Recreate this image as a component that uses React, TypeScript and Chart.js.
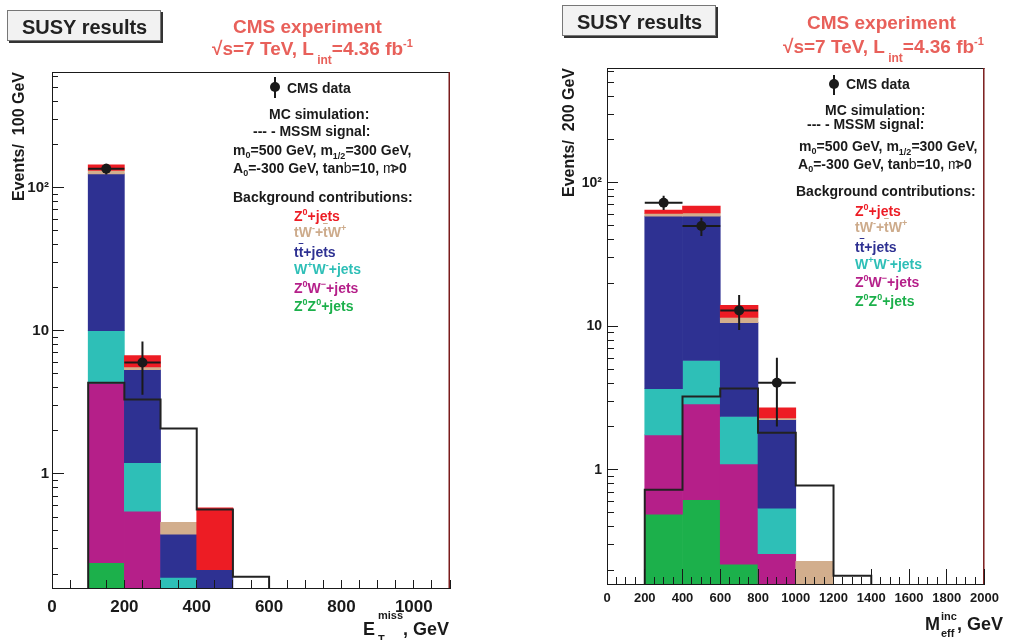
import React, { useEffect, useRef } from 'react';
import { Chart, registerables } from 'chart.js';

Chart.register(...registerables);

const FONT = "'Liberation Sans', Arial, Helvetica, sans-serif";
const INK = '#1a1a1a';
const TITLE_RED = '#e8605a';
const FRAME_RED = '#7a1c1c';

// process colours (stack order bottom -> top: ZZ, ZW, WW, tt, tW, Z)
const C_ZZ = '#1cb04b';
const C_ZW = '#b51f89';
const C_WW = '#2ebfb7';
const C_TT = '#2e3192';
const C_TW = '#d2ae8d';
const C_ZJ = '#ed1c24';
const PROCESS_LABELS = ['Z0Z0+jets', 'Z0W-+jets', 'W+W-+jets', 'tt+jets', 'tW-+tW+', 'Z0+jets'];

// log axis
const Y_MIN = 0.16;
const BAR_FLOOR = 0.001; // log axis cannot hold 0: stacks start below the visible range
const MET_Y_MAX = 640;
const MEFF_Y_MAX = 630;
const Y_TICK_VALUES = [1, 10, 100];
const Y_TICK_LABELS = ['1', '10', '10²'];

// ---------- Left panel: E_T^miss, 100 GeV bins ----------
const MET_CENTERS = [150, 250, 350, 450, 550];
const MET_ZZ = [0.24, 0, 0, 0, 0];
const MET_ZW = [4.06, 0.55, 0, 0, 0];
const MET_WW = [5.7, 0.65, 0.19, 0, 0];
const MET_TT = [114.6, 4.15, 0.19, 0.215, 0];
const MET_TW = [6.8, 0.25, 0.08, 0, 0];
const MET_ZJ = [12.6, 1.1, 0, 0.365, 0];
const MET_SIGNAL_EDGES = [100, 200, 300, 400, 500, 600];
const MET_SIGNAL = [4.33, 3.31, 2.08, 0.565, 0.192];
const MET_DATA_X = [150, 250];
const MET_DATA = [135, 6.0];
const MET_DATA_LO = [123.4, 3.57];
const MET_DATA_HI = [146.6, 8.4];
const MET_HALF_BIN = 50;
const MET_X_MAX = 1100;

// ---------- Right panel: M_eff^inc, 200 GeV bins ----------
const MEFF_CENTERS = [300, 500, 700, 900, 1100];
const MEFF_ZZ = [0.49, 0.62, 0.22, 0, 0];
const MEFF_ZW = [1.26, 2.26, 0.88, 0.26, 0];
const MEFF_WW = [1.92, 2.89, 1.25, 0.28, 0];
const MEFF_TT = [54.9, 52.8, 8.25, 1.69, 0];
const MEFF_TW = [2.6, 3.0, 0.9, 0.07, 0.23];
const MEFF_ZJ = [3.4, 7.3, 2.5, 0.4, 0];
const MEFF_SIGNAL_EDGES = [200, 400, 600, 800, 1000, 1200, 1400];
const MEFF_SIGNAL = [0.726, 3.24, 3.68, 1.81, 0.777, 0.183];
const MEFF_DATA_X = [300, 500, 700, 900];
const MEFF_DATA = [72.6, 49.9, 12.9, 4.04];
const MEFF_DATA_LO = [64.6, 42.5, 9.4, 2.0];
const MEFF_DATA_HI = [81, 57.1, 16.5, 6.03];
const MEFF_HALF_BIN = 100;
const MEFF_X_MAX = 2000;

function logTicks(min: number, max: number) {
  const out: any[] = [];
  for (let e = Math.floor(Math.log10(min)); e <= Math.ceil(Math.log10(max)); e++) {
    for (let m = 1; m <= 9; m++) {
      const v = parseFloat((m * Math.pow(10, e)).toPrecision(4));
      if (v >= min && v <= max) out.push({ value: v, major: m === 1 });
    }
  }
  return out;
}

function buildConfig(p: any) {
  const series = [p.zz, p.zw, p.ww, p.tt, p.tw, p.zj];
  const colors = [C_ZZ, C_ZW, C_WW, C_TT, C_TW, C_ZJ];
  const running = p.centers.map(() => 0);
  const barSets = series.map((vals: number[], k: number) => {
    const data: any[] = [];
    p.centers.forEach((c: number, i: number) => {
      const lo = running[i];
      const hi = lo + vals[i];
      running[i] = hi;
      if (vals[i] > 0) data.push({ x: c, y: [lo > 0 ? lo : BAR_FLOOR, hi] });
    });
    return {
      type: 'bar',
      label: PROCESS_LABELS[k],
      data,
      backgroundColor: colors[k],
      borderWidth: 0,
      barPercentage: 1,
      categoryPercentage: 1,
      stack: 'bg',
      order: 10 - k,
      xAxisID: 'x',
      yAxisID: 'y',
    };
  });

  const last = p.sigEdges.length - 1;
  const sigPts = [
    { x: p.sigEdges[0], y: Y_MIN },
    ...p.signal.map((v: number, i: number) => ({ x: p.sigEdges[i], y: v })),
    { x: p.sigEdges[last], y: Y_MIN },
  ];

  const dataPts = p.dataX.map((x: number, i: number) => ({ x, y: p.data[i] }));

  const errorBars = {
    id: 'errorBars',
    afterDatasetsDraw(chart: any) {
      const { ctx } = chart;
      const x = chart.scales.x;
      const y = chart.scales.y;
      ctx.save();
      ctx.strokeStyle = INK;
      ctx.lineWidth = 2;
      ctx.beginPath();
      p.dataX.forEach((xv: number, i: number) => {
        const px = x.getPixelForValue(xv);
        const py = y.getPixelForValue(p.data[i]);
        ctx.moveTo(x.getPixelForValue(xv - p.halfBin), py);
        ctx.lineTo(x.getPixelForValue(xv + p.halfBin), py);
        ctx.moveTo(px, y.getPixelForValue(p.dataHi[i]));
        ctx.lineTo(px, y.getPixelForValue(p.dataLo[i]));
      });
      ctx.stroke();
      ctx.restore();
    },
  };

  const frame = {
    id: 'frame',
    afterDatasetsDraw(chart: any) {
      const { ctx, chartArea: a } = chart;
      ctx.save();
      ctx.lineWidth = 1;
      ctx.strokeStyle = INK;
      ctx.beginPath();
      ctx.moveTo(a.left, a.top + 0.5);
      ctx.lineTo(a.right, a.top + 0.5);
      ctx.stroke();
      ctx.lineWidth = 1.5;
      ctx.strokeStyle = FRAME_RED;
      ctx.beginPath();
      ctx.moveTo(a.right - 0.75, a.top);
      ctx.lineTo(a.right - 0.75, a.bottom);
      ctx.stroke();
      ctx.restore();
    },
  };

  const transparent = 'rgba(0,0,0,0)';

  return {
    type: 'bar',
    data: {
      datasets: [
        {
          type: 'line',
          label: 'CMS data',
          data: dataPts,
          showLine: false,
          pointRadius: 5,
          pointHoverRadius: 5,
          pointBackgroundColor: INK,
          pointBorderColor: INK,
          pointBorderWidth: 0,
          order: 0,
          xAxisID: 'x',
          yAxisID: 'y',
        },
        {
          type: 'line',
          label: 'MSSM signal',
          data: sigPts,
          stepped: 'before',
          borderColor: '#222',
          borderWidth: 2,
          pointRadius: 0,
          fill: false,
          order: 1,
          xAxisID: 'x',
          yAxisID: 'y',
        },
        ...barSets,
      ],
    },
    options: {
      responsive: false,
      animation: false,
      devicePixelRatio: 1,
      events: [],
      layout: { padding: { left: 0, right: p.padRight, top: p.padTop, bottom: 0 } },
      plugins: { legend: { display: false }, tooltip: { enabled: false } },
      scales: {
        x: {
          type: 'linear',
          position: 'bottom',
          min: 0,
          max: p.xMax,
          weight: 1,
          stacked: true,
          offset: false,
          afterFit: (s: any) => {
            s.height = p.xHeight;
          },
          ticks: {
            stepSize: p.xStep,
            autoSkip: false,
            maxRotation: 0,
            padding: p.xLabelPad,
            color: INK,
            font: { family: FONT, size: p.xLabelSize, weight: 'bold' },
            callback: (v: any) => (Number(v) % p.xLabelEvery === 0 ? String(v) : ''),
          },
          grid: { offset: false, drawOnChartArea: false, drawTicks: true, tickLength: -p.xMajorLen, tickColor: INK, tickWidth: 1, z: 1 },
          border: { display: true, color: INK, width: 1, z: 1 },
        },
        xMinor: {
          type: 'linear',
          position: 'bottom',
          min: 0,
          max: p.xMax,
          weight: 0,
          display: true,
          offset: false,
          afterFit: (s: any) => {
            s.height = 0;
          },
          ticks: { display: false, stepSize: 50 },
          grid: { offset: false, drawOnChartArea: false, drawTicks: true, tickLength: -p.xMinorLen, tickColor: INK, tickWidth: 1, z: 1 },
          border: { display: false },
        },
        y: {
          type: 'logarithmic',
          position: 'left',
          min: Y_MIN,
          max: p.yMax,
          weight: 1,
          stacked: false,
          display: true,
          afterBuildTicks: (s: any) => {
            s.ticks = logTicks(Y_MIN, p.yMax);
          },
          afterFit: (s: any) => {
            s.width = p.yWidth;
          },
          title: {
            display: true,
            text: p.yTitle,
            align: 'end',
            color: INK,
            font: { family: FONT, size: 16, weight: 'bold' },
            padding: { top: p.yTitlePad, bottom: 0 },
          },
          ticks: {
            autoSkip: false,
            padding: p.yLabelPad,
            color: INK,
            font: { family: FONT, size: p.yLabelSize, weight: 'bold' },
            callback: (v: any) => {
              const i = Y_TICK_VALUES.indexOf(Number(v));
              return i >= 0 ? Y_TICK_LABELS[i] : '';
            },
          },
          grid: {
            drawOnChartArea: false,
            drawTicks: true,
            tickLength: -p.yMajorLen,
            tickWidth: 1,
            tickColor: (c: any) => (c.tick && c.tick.major ? INK : transparent),
            z: 1,
          },
          border: { display: true, color: INK, width: 1, z: 1 },
        },
        yMinor: {
          type: 'logarithmic',
          position: 'left',
          min: Y_MIN,
          max: p.yMax,
          weight: 0,
          stacked: false,
          display: true,
          afterBuildTicks: (s: any) => {
            s.ticks = logTicks(Y_MIN, p.yMax);
          },
          afterFit: (s: any) => {
            s.width = 0;
          },
          ticks: { display: false },
          grid: {
            drawOnChartArea: false,
            drawTicks: true,
            tickLength: -p.yMinorLen,
            tickWidth: 1,
            tickColor: (c: any) => (c.tick && !c.tick.major ? INK : transparent),
            z: 1,
          },
          border: { display: false },
        },
      },
    },
    plugins: [errorBars, frame],
  };
}

const LEFT = {
  centers: MET_CENTERS, zz: MET_ZZ, zw: MET_ZW, ww: MET_WW, tt: MET_TT, tw: MET_TW, zj: MET_ZJ,
  sigEdges: MET_SIGNAL_EDGES, signal: MET_SIGNAL,
  dataX: MET_DATA_X, data: MET_DATA, dataLo: MET_DATA_LO, dataHi: MET_DATA_HI, halfBin: MET_HALF_BIN,
  xMax: MET_X_MAX, xStep: 100, xLabelEvery: 200, xLabelSize: 17, xLabelPad: 17, xMajorLen: 8, xMinorLen: 8, xHeight: 52,
  yMax: MET_Y_MAX, yWidth: 52, yTitle: 'Events/  100 GeV', yTitlePad: 10, yLabelPad: 15, yLabelSize: 15, yMajorLen: 12, yMinorLen: 6,
  padRight: 60, padTop: 72,
};

const RIGHT = {
  centers: MEFF_CENTERS, zz: MEFF_ZZ, zw: MEFF_ZW, ww: MEFF_WW, tt: MEFF_TT, tw: MEFF_TW, zj: MEFF_ZJ,
  sigEdges: MEFF_SIGNAL_EDGES, signal: MEFF_SIGNAL,
  dataX: MEFF_DATA_X, data: MEFF_DATA, dataLo: MEFF_DATA_LO, dataHi: MEFF_DATA_HI, halfBin: MEFF_HALF_BIN,
  xMax: MEFF_X_MAX, xStep: 200, xLabelEvery: 200, xLabelSize: 13, xLabelPad: 22, xMajorLen: 15, xMinorLen: 7, xHeight: 56,
  yMax: MEFF_Y_MAX, yWidth: 97, yTitle: 'Events/  200 GeV', yTitlePad: 50, yLabelPad: 16, yLabelSize: 14, yMajorLen: 11, yMinorLen: 7,
  padRight: 17, padTop: 68,
};

function Txt({ x, b, size = 14, color = INK, weight = 'bold', children }: any) {
  return (
    <div
      style={{
        position: 'absolute',
        left: x,
        top: b - 0.8465 * size,
        fontSize: size,
        lineHeight: `${size}px`,
        fontWeight: weight as any,
        color,
        whiteSpace: 'nowrap',
        fontFamily: FONT,
      }}
    >
      {children}
    </div>
  );
}

const Shift = ({ children, size = 9, dy = 0 }: any) => (
  <span style={{ fontSize: size, position: 'relative', top: dy }}>{children}</span>
);
const Sub = ({ children, size = 9, dy = 3 }: any) => <Shift size={size} dy={dy}>{children}</Shift>;
const Sup = ({ children, size = 9, dy = -6 }: any) => <Shift size={size} dy={dy}>{children}</Shift>;
const Over = ({ children }: any) => <span style={{ textDecoration: 'overline' }}>{children}</span>;

function LegendBlock({ p }: any) {
  return (
    <>
      <div style={{ position: 'absolute', left: p.mx - 1, top: p.my0, width: 2, height: p.my1 - p.my0, background: INK }} />
      <div style={{ position: 'absolute', left: p.mx - 5, top: p.my - 5, width: 10, height: 10, borderRadius: '50%', background: INK }} />
      <Txt x={p.dataX} b={p.dataB}>CMS data</Txt>
      <Txt x={p.mcX} b={p.mcB}>MC simulation:</Txt>
      <Txt x={p.sigX} b={p.sigB}>--- - MSSM signal:</Txt>
      <Txt x={p.m0X} b={p.m0B}>
        m<Sub>0</Sub>=500 GeV, m<Sub dy={4}>1/2</Sub>=300 GeV,
      </Txt>
      <Txt x={p.a0X} b={p.a0B}>
        A<Sub>0</Sub>=-300 GeV, tan<span style={{ fontWeight: 'normal' }}>b</span>=10,{' '}
        <span style={{ fontWeight: 'normal' }}>m</span>
        <span style={{ marginLeft: -4 }}>&gt;</span>0
      </Txt>
      <Txt x={p.bgX} b={p.bgB}>Background contributions:</Txt>
      <Txt x={p.itemX} b={p.itemB[0]} color={C_ZJ}>
        Z<Sup>0</Sup>+jets
      </Txt>
      <Txt x={p.itemX} b={p.itemB[1]} color="#cdab8b">
        tW<Sup>-</Sup>+<Over>t</Over>W<Sup>+</Sup>
      </Txt>
      <Txt x={p.itemX} b={p.itemB[2]} color={C_TT}>
        t<Over>t</Over>+jets
      </Txt>
      <Txt x={p.itemX} b={p.itemB[3]} color={C_WW}>
        W<Sup>+</Sup>W<Sup>-</Sup>+jets
      </Txt>
      <Txt x={p.itemX} b={p.itemB[4]} color={C_ZW}>
        Z<Sup>0</Sup>W<Sup>−</Sup>+jets
      </Txt>
      <Txt x={p.itemX} b={p.itemB[5]} color={C_ZZ}>
        Z<Sup>0</Sup>Z<Sup>0</Sup>+jets
      </Txt>
    </>
  );
}

const LEFT_LEGEND = {
  mx: 275, my: 87, my0: 77, my1: 98, dataX: 287, dataB: 92.7, mcX: 269, mcB: 119, sigX: 253, sigB: 136,
  m0X: 233, m0B: 155, a0X: 233, a0B: 173, bgX: 233, bgB: 202, itemX: 294,
  itemB: [220.7, 236.7, 256.7, 274, 292.7, 310.7],
};
const RIGHT_LEGEND = {
  mx: 834, my: 84, my0: 75, my1: 95, dataX: 846, dataB: 89.3, mcX: 825, mcB: 115, sigX: 807, sigB: 129.3,
  m0X: 799, m0B: 151, a0X: 798, a0B: 169, bgX: 796, bgB: 196, itemX: 855,
  itemB: [215.7, 231.7, 251.7, 269, 287.3, 305.7],
};

function Header({ boxX, boxY, textX, textB, cmsX, cmsB, lumiX, lumiB }: any) {
  return (
    <>
      <div
        style={{
          position: 'absolute',
          left: boxX,
          top: boxY,
          width: 154,
          height: 31,
          boxSizing: 'border-box',
          border: '1px solid #777',
          background: '#f2f2f2',
          boxShadow: '2px 2px 0 #333',
        }}
      />
      <Txt x={textX} b={textB} size={20} color="#222">
        SUSY results
      </Txt>
      <Txt x={cmsX} b={cmsB} size={19} color={TITLE_RED}>
        CMS experiment
      </Txt>
      <Txt x={lumiX} b={lumiB} size={19} color={TITLE_RED}>
        √s=7 TeV, L<Sub size={12} dy={9}> int</Sub>=4.36 fb<Sup size={11} dy={-8}>-1</Sup>
      </Txt>
    </>
  );
}

export default function App() {
  const leftRef = useRef<HTMLCanvasElement>(null);
  const rightRef = useRef<HTMLCanvasElement>(null);

  useEffect(() => {
    Chart.defaults.font.family = FONT;
    const a = new Chart(leftRef.current as HTMLCanvasElement, buildConfig(LEFT) as any);
    const b = new Chart(rightRef.current as HTMLCanvasElement, buildConfig(RIGHT) as any);
    return () => {
      a.destroy();
      b.destroy();
    };
  }, []);

  return (
    <div
      style={{
        position: 'absolute',
        left: 0,
        top: 0,
        width: 1021,
        height: 640,
        overflow: 'hidden',
        background: '#fff',
        fontFamily: FONT,
      }}
    >
      <canvas ref={leftRef} width={510} height={640} style={{ position: 'absolute', left: 0, top: 0 }} />
      <canvas ref={rightRef} width={511} height={640} style={{ position: 'absolute', left: 510, top: 0 }} />

      <Header boxX={7} boxY={10} textX={22} textB={34} cmsX={233} cmsB={33} lumiX={212} lumiB={55} />
      <Header boxX={562} boxY={5} textX={577} textB={29.3} cmsX={807} cmsB={29.5} lumiX={783} lumiB={52.7} />

      <LegendBlock p={LEFT_LEGEND} />
      <LegendBlock p={RIGHT_LEGEND} />

      <Txt x={363} b={635} size={18}>
        E
        <span style={{ display: 'inline-block', position: 'relative', marginLeft: 3 }}>
          <span style={{ fontSize: 11, position: 'relative', top: -16 }}>miss</span>
          <span style={{ position: 'absolute', left: 0, top: 10.4, fontSize: 11 }}>T</span>
        </span>
        , GeV
      </Txt>
      <Txt x={925} b={630} size={18}>
        M
        <span style={{ display: 'inline-block', position: 'relative', marginLeft: 1 }}>
          <span style={{ fontSize: 11, position: 'relative', top: -9.5 }}>inc</span>
          <span style={{ position: 'absolute', left: 0, top: 9.1, fontSize: 11 }}>eff</span>
        </span>
        , GeV
      </Txt>
    </div>
  );
}
